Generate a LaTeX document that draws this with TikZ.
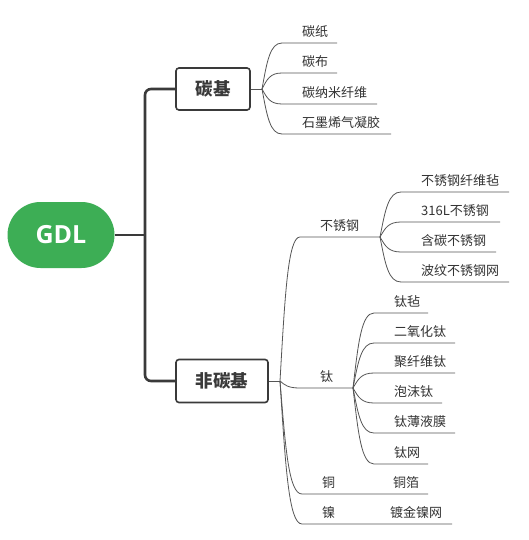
\documentclass[tikz,border=0pt]{standalone}
\usepackage{fontspec}
\setmainfont{Noto Sans CJK SC}
\newfontfamily\gdlfont{Open Sans}
\definecolor{gdlgreen}{HTML}{3DAE55}
\definecolor{txt}{HTML}{333333}
\definecolor{ln}{HTML}{555555}
\definecolor{bx}{HTML}{3A3A3A}
\newcommand\mmleaf[8]{% #1 fan, #2 fanx, #3 fany, #4 textx, #5 underline y, #6 underline end x, #7 name, #8 text
  \pgfmathsetmacro\mmdx{#4-20-#2}%
  \pgfmathsetmacro\mmdy{#5-#3}%
  \coordinate (#7s) at ({#4-20},#5);
  \coordinate (#7e) at (#6,#5);
  \node[leaf] (#7) at (#4,{#5-11.5}) {#8};
  \draw[branch] (#1) .. controls +({0.25*\mmdx},{0.6*\mmdy}) and +({-0.6*\mmdx},0) .. (#7s) -- (#7e);
}
\begin{document}
\begin{tikzpicture}[x=1pt,y=-1pt,
  leaf/.style={font=\fontsize{13}{15}\selectfont, text=txt, anchor=west, inner sep=0pt},
  branch/.style={draw=ln, line width=0.8pt},
  trunk/.style={draw=bx, line width=2.6pt},
  catbox/.style={draw=bx, line width=1.6pt, fill=white, rounded corners=3pt, font=\fontsize{17.5}{20}\selectfont\bfseries, text=bx, inner sep=0pt}]
\useasboundingbox[fill=white] (0,0) rectangle (529,540);
% root
\node[fill=gdlgreen, rounded corners=33pt, minimum width=107pt, minimum height=66pt, inner sep=0pt, text=white, font=\gdlfont\fontsize{25}{28}\selectfont\bfseries] (gdl) at (61,235) {GDL};
\node[catbox, minimum width=74pt, minimum height=42pt] (tj) at (213,89) {碳基};
\node[catbox, minimum width=92pt, minimum height=43pt] (ftj) at (222,381) {非碳基};
\coordinate (jt) at (145,235);
\draw[trunk] (gdl.east) -- (jt);
\draw[trunk, rounded corners=6pt] (tj.west) -| (jt) |- (ftj.west);
% fans
\coordinate (f1) at (262,89);
\coordinate (f2) at (280,381);
\draw[branch] (tj.east) -- (f1);
\draw[branch] (ftj.east) -- (f2);
% carbon based
\mmleaf{f1}{262}{89}{302}{43}{337}{cz}{碳纸}
\mmleaf{f1}{262}{89}{302}{73}{337}{cb}{碳布}
\mmleaf{f1}{262}{89}{302}{104}{377}{cn}{碳纳米纤维}
\mmleaf{f1}{262}{89}{302}{134}{391}{cs}{石墨烯气凝胶}
% non carbon
\mmleaf{f2}{280}{381}{320}{237}{380}{bx}{不锈钢}
\mmleaf{f2}{280}{381}{320}{388}{353}{ti}{钛}
\mmleaf{f2}{280}{381}{322}{494}{428}{cu}{铜}
\mmleaf{f2}{280}{381}{322}{524}{452}{ni}{镍}
\node[leaf] (cuf) at (393,482.5) {铜箔};
\node[leaf] (nim) at (390,512.5) {镀金镍网};
% stainless
\mmleaf{bxe}{380}{237}{421}{192}{509}{s1}{不锈钢纤维毡}
\mmleaf{bxe}{380}{237}{421}{222}{500}{s2}{316L不锈钢}
\mmleaf{bxe}{380}{237}{421}{252}{496}{s3}{含碳不锈钢}
\mmleaf{bxe}{380}{237}{421}{282}{509}{s4}{波纹不锈钢网}
% titanium
\mmleaf{tie}{353}{388}{394}{313}{428}{t1}{钛毡}
\mmleaf{tie}{353}{388}{394}{343}{455}{t2}{二氧化钛}
\mmleaf{tie}{353}{388}{394}{373}{455}{t3}{聚纤维钛}
\mmleaf{tie}{353}{388}{394}{403}{442}{t4}{泡沫钛}
\mmleaf{tie}{353}{388}{394}{433}{455}{t5}{钛薄液膜}
\mmleaf{tie}{353}{388}{394}{464}{428}{t6}{钛网}
\end{tikzpicture}
\end{document}
